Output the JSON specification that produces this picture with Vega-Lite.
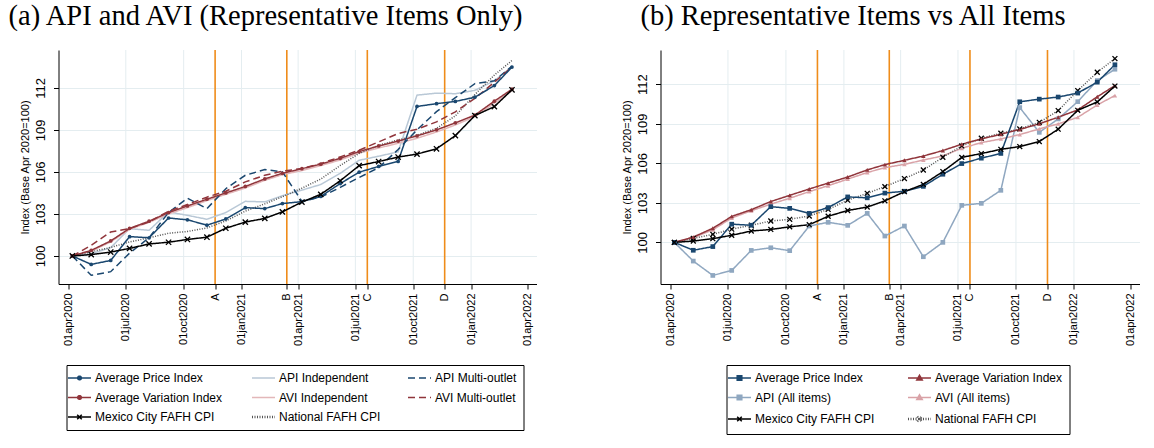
{
  "$schema": "https://vega.github.io/schema/vega-lite/v6.json",
  "background": "white",
  "padding": {"left": 6.5, "top": 1, "right": 0, "bottom": 0},
  "config": {
    "view": {"stroke": null},
    "font": "Liberation Sans",
    "axis": {"domainColor": "black", "tickColor": "black", "labelColor": "black", "titleColor": "black", "titleFontWeight": "normal", "domainWidth": 1, "tickWidth": 1, "tickSize": 5, "labelFont": "Liberation Sans", "titleFont": "Liberation Sans"},
    "title": {"font": "Liberation Serif", "fontSize": 28.5, "fontWeight": "normal", "color": "black"},
    "legend": {"labelFont": "Liberation Sans", "labelFontSize": 12, "labelColor": "black", "strokeColor": "black", "padding": 7, "rowPadding": 7.5, "columnPadding": 24, "labelOffset": 9.5, "symbolSize": 529, "symbolStrokeWidth": 1.5, "symbolType": "stroke", "title": null, "labelLimit": 300}
  },
  "datasets": {
    "series": [
      {"date": "2020-04-07", "Average Price Index": 100, "Average Variation Index": 100, "API Independent": 100, "API Multi-outlet": 100, "AVI Independent": 100, "AVI Multi-outlet": 100, "API (All items)": 100, "AVI (All items)": 100, "Mexico City FAFH CPI": 100, "National FAFH CPI": 100},
      {"date": "2020-05-07", "Average Price Index": 99.4, "Average Variation Index": 100.4, "API Independent": 100.15, "API Multi-outlet": 98.62, "AVI Independent": 100.35, "AVI Multi-outlet": 100.76, "API (All items)": 98.58, "AVI (All items)": 100.35, "Mexico City FAFH CPI": 100.1, "National FAFH CPI": 100.3},
      {"date": "2020-06-07", "Average Price Index": 99.68, "Average Variation Index": 101.07, "API Independent": 100.6, "API Multi-outlet": 98.88, "AVI Independent": 101.0, "AVI Multi-outlet": 101.71, "API (All items)": 97.49, "AVI (All items)": 100.95, "Mexico City FAFH CPI": 100.28, "National FAFH CPI": 100.61},
      {"date": "2020-07-07", "Average Price Index": 101.38, "Average Variation Index": 101.97, "API Independent": 101.95, "API Multi-outlet": 100.2, "AVI Independent": 101.9, "AVI Multi-outlet": 101.95, "API (All items)": 97.87, "AVI (All items)": 101.85, "Mexico City FAFH CPI": 100.54, "National FAFH CPI": 101.0},
      {"date": "2020-08-07", "Average Price Index": 101.3, "Average Variation Index": 102.48, "API Independent": 101.83, "API Multi-outlet": 101.3, "AVI Independent": 102.4, "AVI Multi-outlet": 102.43, "API (All items)": 99.39, "AVI (All items)": 102.4, "Mexico City FAFH CPI": 100.86, "National FAFH CPI": 101.3},
      {"date": "2020-09-07", "Average Price Index": 102.71, "Average Variation Index": 103.1, "API Independent": 103.14, "API Multi-outlet": 103.1, "AVI Independent": 103.0, "AVI Multi-outlet": 103.19, "API (All items)": 99.59, "AVI (All items)": 102.9, "Mexico City FAFH CPI": 100.98, "National FAFH CPI": 101.62},
      {"date": "2020-10-07", "Average Price Index": 102.58, "Average Variation Index": 103.57, "API Independent": 102.9, "API Multi-outlet": 104.12, "AVI Independent": 103.45, "AVI Multi-outlet": 103.67, "API (All items)": 99.37, "AVI (All items)": 103.35, "Mexico City FAFH CPI": 101.18, "National FAFH CPI": 101.75},
      {"date": "2020-11-07", "Average Price Index": 102.2, "Average Variation Index": 104.05, "API Independent": 102.62, "API Multi-outlet": 103.38, "AVI Independent": 103.95, "AVI Multi-outlet": 104.2, "API (All items)": 101.24, "AVI (All items)": 103.85, "Mexico City FAFH CPI": 101.34, "National FAFH CPI": 102.0},
      {"date": "2020-12-07", "Average Price Index": 102.64, "Average Variation Index": 104.5, "API Independent": 103.1, "API Multi-outlet": 104.8, "AVI Independent": 104.4, "AVI Multi-outlet": 104.62, "API (All items)": 101.52, "AVI (All items)": 104.3, "Mexico City FAFH CPI": 101.98, "National FAFH CPI": 102.5},
      {"date": "2021-01-07", "Average Price Index": 103.45, "Average Variation Index": 104.96, "API Independent": 103.9, "API Multi-outlet": 105.76, "AVI Independent": 104.85, "AVI Multi-outlet": 105.29, "API (All items)": 101.29, "AVI (All items)": 104.8, "Mexico City FAFH CPI": 102.42, "National FAFH CPI": 103.2},
      {"date": "2021-02-07", "Average Price Index": 103.38, "Average Variation Index": 105.5, "API Independent": 103.86, "API Multi-outlet": 106.17, "AVI Independent": 105.4, "AVI Multi-outlet": 105.76, "API (All items)": 102.2, "AVI (All items)": 105.3, "Mexico City FAFH CPI": 102.68, "National FAFH CPI": 103.72},
      {"date": "2021-03-07", "Average Price Index": 103.74, "Average Variation Index": 105.9, "API Independent": 104.3, "API Multi-outlet": 106.0, "AVI Independent": 105.8, "AVI Multi-outlet": 106.05, "API (All items)": 100.48, "AVI (All items)": 105.67, "Mexico City FAFH CPI": 103.15, "National FAFH CPI": 104.23},
      {"date": "2021-04-07", "Average Price Index": 103.88, "Average Variation Index": 106.23, "API Independent": 104.7, "API Multi-outlet": 103.9, "AVI Independent": 106.1, "AVI Multi-outlet": 106.24, "API (All items)": 101.24, "AVI (All items)": 105.92, "Mexico City FAFH CPI": 103.85, "National FAFH CPI": 104.84},
      {"date": "2021-05-07", "Average Price Index": 104.25, "Average Variation Index": 106.55, "API Independent": 105.1, "API Multi-outlet": 104.2, "AVI Independent": 106.45, "AVI Multi-outlet": 106.6, "API (All items)": 98.91, "AVI (All items)": 106.25, "Mexico City FAFH CPI": 104.4, "National FAFH CPI": 105.49},
      {"date": "2021-06-07", "Average Price Index": 105.17, "Average Variation Index": 106.97, "API Independent": 105.9, "API Multi-outlet": 104.9, "AVI Independent": 106.85, "AVI Multi-outlet": 107.07, "API (All items)": 100.0, "AVI (All items)": 106.56, "Mexico City FAFH CPI": 105.37, "National FAFH CPI": 106.46},
      {"date": "2021-07-07", "Average Price Index": 105.98, "Average Variation Index": 107.45, "API Independent": 106.83, "API Multi-outlet": 105.6, "AVI Independent": 107.35, "AVI Multi-outlet": 107.55, "API (All items)": 102.81, "AVI (All items)": 107.14, "Mexico City FAFH CPI": 106.45, "National FAFH CPI": 107.32},
      {"date": "2021-08-07", "Average Price Index": 106.39, "Average Variation Index": 107.85, "API Independent": 107.12, "API Multi-outlet": 106.3, "AVI Independent": 107.7, "AVI Multi-outlet": 108.14, "API (All items)": 102.96, "AVI (All items)": 107.57, "Mexico City FAFH CPI": 106.74, "National FAFH CPI": 107.9},
      {"date": "2021-09-07", "Average Price Index": 106.75, "Average Variation Index": 108.2, "API Independent": 107.43, "API Multi-outlet": 107.6, "AVI Independent": 108.05, "AVI Multi-outlet": 108.74, "API (All items)": 103.95, "AVI (All items)": 107.85, "Mexico City FAFH CPI": 107.06, "National FAFH CPI": 108.28},
      {"date": "2021-10-07", "Average Price Index": 110.67, "Average Variation Index": 108.57, "API Independent": 111.48, "API Multi-outlet": 109.0, "AVI Independent": 108.4, "AVI Multi-outlet": 109.05, "API (All items)": 110.23, "AVI (All items)": 108.18, "Mexico City FAFH CPI": 107.27, "National FAFH CPI": 108.61},
      {"date": "2021-11-07", "Average Price Index": 110.87, "Average Variation Index": 109.0, "API Independent": 111.62, "API Multi-outlet": 110.3, "AVI Independent": 108.85, "AVI Multi-outlet": 109.57, "API (All items)": 108.35, "AVI (All items)": 108.61, "Mexico City FAFH CPI": 107.65, "National FAFH CPI": 109.11},
      {"date": "2021-12-07", "Average Price Index": 111.03, "Average Variation Index": 109.5, "API Independent": 111.58, "API Multi-outlet": 111.3, "AVI Independent": 109.35, "AVI Multi-outlet": 110.29, "API (All items)": 109.37, "AVI (All items)": 108.99, "Mexico City FAFH CPI": 108.59, "National FAFH CPI": 110.0},
      {"date": "2022-01-07", "Average Price Index": 111.33, "Average Variation Index": 110.05, "API Independent": 111.82, "API Multi-outlet": 112.3, "AVI Independent": 109.95, "AVI Multi-outlet": 111.24, "API (All items)": 110.68, "AVI (All items)": 109.49, "Mexico City FAFH CPI": 110.02, "National FAFH CPI": 111.52},
      {"date": "2022-02-07", "Average Price Index": 112.16, "Average Variation Index": 111.05, "API Independent": 112.5, "API Multi-outlet": 112.5, "AVI Independent": 110.9, "AVI Multi-outlet": 112.4, "API (All items)": 112.28, "AVI (All items)": 110.43, "Mexico City FAFH CPI": 110.66, "National FAFH CPI": 112.91},
      {"date": "2022-03-07", "Average Price Index": 113.48, "Average Variation Index": 111.9, "API Independent": 113.5, "API Multi-outlet": 113.55, "AVI Independent": 111.8, "AVI Multi-outlet": 113.5, "API (All items)": 113.14, "AVI (All items)": 111.14, "Mexico City FAFH CPI": 111.86, "National FAFH CPI": 113.95}
    ],
    "events": [
      {"date": "2020-11-20", "event": "A"},
      {"date": "2021-03-14", "event": "B"},
      {"date": "2021-07-20", "event": "C"},
      {"date": "2021-11-20", "event": "D"}
    ],
    "grid": [
      {"date": "2020-07-01"}, {"date": "2020-10-01"}, {"date": "2021-01-01"}, {"date": "2021-04-01"},
      {"date": "2021-07-01"}, {"date": "2021-10-01"}, {"date": "2022-01-01"}
    ]
  },
  "spacing": 85,
  "resolve": {"scale": {"color": "independent", "strokeDash": "independent", "y": "independent", "x": "independent"}, "legend": {"color": "independent", "strokeDash": "independent"}},
  "hconcat": [
    {
      "title": {"text": "(a) API and AVI (Representative Items Only)", "anchor": "middle", "frame": "group", "dx": -32, "baseline": "alphabetic", "offset": -4},
      "width": 478,
      "height": 234,
      "encoding": {
        "x": {
          "field": "date", "type": "temporal", "title": null,
          "scale": {"type": "utc", "domain": [{"year": 2020, "month": 3, "date": 16, "utc": true}, {"year": 2022, "month": 4, "date": 15, "utc": true}]},
          "axis": {
            "grid": false, "labelAngle": 270, "labelFontSize": 11, "labelPadding": 4, "labelOverlap": false, "labelFlush": false, "labelBound": false,
            "values": [
              {"year": 2020, "month": 4, "date": 1, "utc": true}, {"year": 2020, "month": 7, "date": 1, "utc": true}, {"year": 2020, "month": 10, "date": 1, "utc": true},
              {"year": 2021, "month": 1, "date": 1, "utc": true}, {"year": 2021, "month": 4, "date": 1, "utc": true}, {"year": 2021, "month": 7, "date": 1, "utc": true},
              {"year": 2021, "month": 10, "date": 1, "utc": true}, {"year": 2022, "month": 1, "date": 1, "utc": true}, {"year": 2022, "month": 4, "date": 1, "utc": true},
              {"year": 2020, "month": 11, "date": 20, "utc": true}, {"year": 2021, "month": 3, "date": 14, "utc": true}, {"year": 2021, "month": 7, "date": 20, "utc": true}, {"year": 2021, "month": 11, "date": 20, "utc": true}
            ],
            "labelExpr": "utcdate(datum.value) == 1 ? lower(utcFormat(datum.value, '%d%b%Y')) : (utcmonth(datum.value) == 10 && utcyear(datum.value) == 2020) ? 'A' : utcmonth(datum.value) == 2 ? 'B' : utcmonth(datum.value) == 6 ? 'C' : 'D'"
          }
        }
      },
      "layer": [
        {"data": {"name": "grid"}, "mark": {"type": "rule", "color": "#e4edf0", "strokeWidth": 1}},
        {"data": {"name": "events"}, "mark": {"type": "rule", "color": "#ef8c1a", "strokeWidth": 1.6}},
        {
          "data": {"name": "series"},
          "transform": [{"fold": ["API Independent", "AVI Independent", "National FAFH CPI", "API Multi-outlet", "AVI Multi-outlet", "Average Variation Index", "Average Price Index", "Mexico City FAFH CPI"], "as": ["series", "value"]}],
          "encoding": {
            "y": {"field": "value", "type": "quantitative", "title": "Index (Base Apr 2020=100)",
              "scale": {"domain": [98, 114.7], "nice": false, "zero": false},
              "axis": {"values": [100, 103, 106, 109, 112], "labelAngle": 270, "labelFontSize": 13, "labelPadding": 6, "titleFontSize": 11, "titlePadding": 4, "grid": true, "gridColor": "#e4edf0"}}
          },
          "layer": [
            {
              "mark": {"type": "line", "strokeWidth": 1.5},
              "encoding": {
                "color": {"field": "series", "type": "nominal",
                  "scale": {"domain": ["Average Price Index", "Average Variation Index", "Mexico City FAFH CPI", "API Independent", "AVI Independent", "National FAFH CPI", "API Multi-outlet", "AVI Multi-outlet"],
                    "range": ["#1a476f", "#90353b", "#000000", "#b9c8d6", "#e3b7b9", "#555555", "#1a476f", "#90353b"]},
                  "legend": {"orient": "none", "legendX": 8, "legendY": 315, "columns": 3,
                    "encode": {"symbols": {"update": {
                      "shape": {"signal": "datum.value === 'Average Price Index' || datum.value === 'Average Variation Index' ? 'M-1,0H1M0.16,0A0.16,0.16,0,1,1,-0.16,0A0.16,0.16,0,1,1,0.16,0Z' : datum.value === 'Mexico City FAFH CPI' ? 'M-1,0H1M-0.2,-0.2L0.2,0.2M-0.2,0.2L0.2,-0.2' : 'M-1,0H1'"},
                      "fill": {"signal": "datum.value === 'Average Price Index' ? '#1a476f' : datum.value === 'Average Variation Index' ? '#90353b' : 'transparent'"},
                      "strokeWidth": {"signal": "datum.value === 'National FAFH CPI' ? 2.5 : 1.5"}
                    }}}}},
                "strokeDash": {"field": "series", "type": "nominal",
                  "scale": {"domain": ["Average Price Index", "Average Variation Index", "Mexico City FAFH CPI", "API Independent", "AVI Independent", "National FAFH CPI", "API Multi-outlet", "AVI Multi-outlet"],
                    "range": [[1, 0], [1, 0], [1, 0], [1, 0], [1, 0], [1, 1.5], [7, 4], [7, 4]]}},
                "strokeWidth": {"condition": {"test": "datum.series === 'National FAFH CPI'", "value": 2.5}, "value": 1.5}
              }
            },
            {"transform": [{"filter": {"field": "series", "equal": "Average Price Index"}}], "mark": {"type": "point", "shape": "circle", "filled": true, "size": 14, "color": "#1a476f", "opacity": 1}},
            {"transform": [{"filter": {"field": "series", "equal": "Average Variation Index"}}], "mark": {"type": "point", "shape": "circle", "filled": true, "size": 14, "color": "#90353b", "opacity": 1}},
            {"transform": [{"filter": {"field": "series", "equal": "Mexico City FAFH CPI"}}], "mark": {"type": "point", "shape": "M-1,-1L1,1M-1,1L1,-1", "filled": false, "size": 28, "strokeWidth": 1.3, "color": "#000000", "opacity": 1}}
          ]
        }
      ]
    },
    {
      "title": {"text": "(b) Representative Items vs All Items", "anchor": "middle", "frame": "group", "dx": -47, "baseline": "alphabetic", "offset": -4},
      "width": 479,
      "height": 234,
      "encoding": {
        "x": {
          "field": "date", "type": "temporal", "title": null,
          "scale": {"type": "utc", "domain": [{"year": 2020, "month": 3, "date": 16, "utc": true}, {"year": 2022, "month": 4, "date": 15, "utc": true}]},
          "axis": {
            "grid": false, "labelAngle": 270, "labelFontSize": 11, "labelPadding": 4, "labelOverlap": false, "labelFlush": false, "labelBound": false,
            "values": [
              {"year": 2020, "month": 4, "date": 1, "utc": true}, {"year": 2020, "month": 7, "date": 1, "utc": true}, {"year": 2020, "month": 10, "date": 1, "utc": true},
              {"year": 2021, "month": 1, "date": 1, "utc": true}, {"year": 2021, "month": 4, "date": 1, "utc": true}, {"year": 2021, "month": 7, "date": 1, "utc": true},
              {"year": 2021, "month": 10, "date": 1, "utc": true}, {"year": 2022, "month": 1, "date": 1, "utc": true}, {"year": 2022, "month": 4, "date": 1, "utc": true},
              {"year": 2020, "month": 11, "date": 20, "utc": true}, {"year": 2021, "month": 3, "date": 14, "utc": true}, {"year": 2021, "month": 7, "date": 20, "utc": true}, {"year": 2021, "month": 11, "date": 20, "utc": true}
            ],
            "labelExpr": "utcdate(datum.value) == 1 ? lower(utcFormat(datum.value, '%d%b%Y')) : (utcmonth(datum.value) == 10 && utcyear(datum.value) == 2020) ? 'A' : utcmonth(datum.value) == 2 ? 'B' : utcmonth(datum.value) == 6 ? 'C' : 'D'"
          }
        }
      },
      "layer": [
        {"data": {"name": "grid"}, "mark": {"type": "rule", "color": "#e4edf0", "strokeWidth": 1}},
        {"data": {"name": "events"}, "mark": {"type": "rule", "color": "#ef8c1a", "strokeWidth": 1.6}},
        {
          "data": {"name": "series"},
          "transform": [{"fold": ["API (All items)", "AVI (All items)", "National FAFH CPI", "Average Variation Index", "Average Price Index", "Mexico City FAFH CPI"], "as": ["series", "value"]}],
          "encoding": {
            "y": {"field": "value", "type": "quantitative", "title": "Index (Base Apr 2020=100)",
              "scale": {"domain": [96.84, 114.6], "nice": false, "zero": false},
              "axis": {"values": [100, 103, 106, 109, 112], "labelAngle": 270, "labelFontSize": 13, "labelPadding": 6, "titleFontSize": 11, "titlePadding": 4, "grid": true, "gridColor": "#e4edf0"}}
          },
          "layer": [
            {
              "mark": {"type": "line", "strokeWidth": 1.5},
              "encoding": {
                "color": {"field": "series", "type": "nominal",
                  "scale": {"domain": ["Average Price Index", "API (All items)", "Mexico City FAFH CPI", "Average Variation Index", "AVI (All items)", "National FAFH CPI"],
                    "range": ["#1a476f", "#8fa7c0", "#000000", "#90353b", "#d9a2a7", "#555555"]},
                  "legend": {"orient": "none", "legendX": 66, "legendY": 315, "columns": 2, "columnPadding": 28,
                    "encode": {"symbols": {"update": {
                      "shape": {"signal": "datum.value === 'Average Price Index' || datum.value === 'API (All items)' ? 'M-1,0H1M-0.2,-0.2H0.2V0.2H-0.2Z' : datum.value === 'Average Variation Index' || datum.value === 'AVI (All items)' ? 'M-1,0H1M0,-0.24L0.24,0.18L-0.24,0.18Z' : 'M-1,0H1M-0.2,-0.2L0.2,0.2M-0.2,0.2L0.2,-0.2'"},
                      "fill": {"signal": "datum.value === 'Average Price Index' ? '#1a476f' : datum.value === 'Average Variation Index' ? '#90353b' : datum.value === 'API (All items)' ? '#8fa7c0' : datum.value === 'AVI (All items)' ? '#d9a2a7' : 'transparent'"},
                      "strokeWidth": {"signal": "datum.value === 'National FAFH CPI' ? 2.5 : 1.5"}
                    }}}}},
                "strokeDash": {"field": "series", "type": "nominal",
                  "scale": {"domain": ["Average Price Index", "API (All items)", "Mexico City FAFH CPI", "Average Variation Index", "AVI (All items)", "National FAFH CPI"],
                    "range": [[1, 0], [1, 0], [1, 0], [1, 0], [1, 0], [1, 1.5]]}},
                "strokeWidth": {"condition": {"test": "datum.series === 'National FAFH CPI'", "value": 2.5}, "value": 1.5}
              }
            },
            {"transform": [{"filter": {"field": "series", "equal": "API (All items)"}}], "mark": {"type": "point", "shape": "square", "filled": true, "size": 22, "color": "#8fa7c0", "opacity": 1}},
            {"transform": [{"filter": {"field": "series", "equal": "AVI (All items)"}}], "mark": {"type": "point", "shape": "triangle-up", "filled": true, "size": 20, "color": "#d9a2a7", "opacity": 1}},
            {"transform": [{"filter": {"field": "series", "equal": "National FAFH CPI"}}], "mark": {"type": "point", "shape": "M-1,-1L1,1M-1,1L1,-1", "filled": false, "size": 24, "strokeWidth": 1.3, "color": "#000000", "opacity": 1}},
            {"transform": [{"filter": {"field": "series", "equal": "Average Variation Index"}}], "mark": {"type": "point", "shape": "triangle-up", "filled": true, "size": 20, "color": "#90353b", "opacity": 1}},
            {"transform": [{"filter": {"field": "series", "equal": "Average Price Index"}}], "mark": {"type": "point", "shape": "square", "filled": true, "size": 22, "color": "#1a476f", "opacity": 1}},
            {"transform": [{"filter": {"field": "series", "equal": "Mexico City FAFH CPI"}}], "mark": {"type": "point", "shape": "M-1,-1L1,1M-1,1L1,-1", "filled": false, "size": 24, "strokeWidth": 1.3, "color": "#000000", "opacity": 1}}
          ]
        }
      ]
    }
  ]
}
